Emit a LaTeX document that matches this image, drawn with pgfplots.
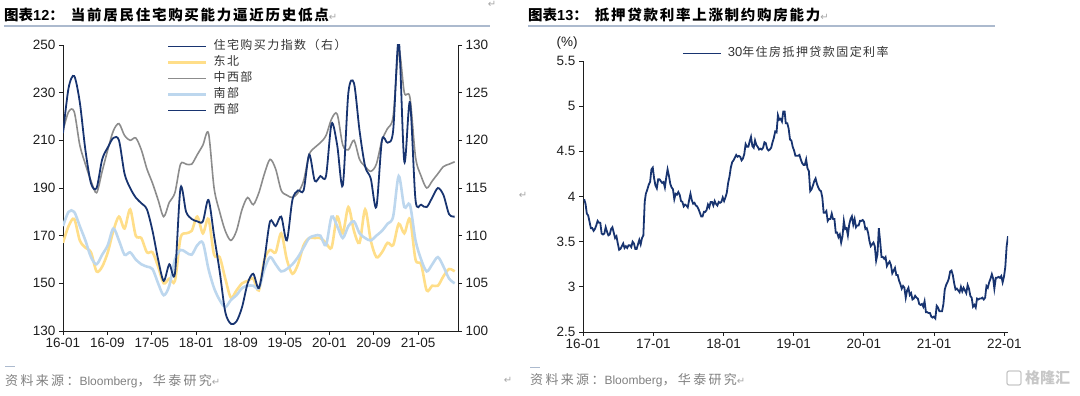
\documentclass[border=0pt]{standalone}
\usepackage{fontspec}
\setmainfont{Liberation Sans}
\newfontfamily\cjk{Noto Sans CJK SC}
\newfontfamily\cjkls[LetterSpace=12]{Noto Sans CJK SC}
\newfontfamily\cjksrc[LetterSpace=18]{Noto Sans CJK SC}
\newfontfamily\dv{DejaVu Sans}
\usepackage{pgfplots}
\usepackage{pgfplotstable}
\pgfplotsset{compat=1.18}
\usepgfplotslibrary{dateplot}
\definecolor{navy}{RGB}{24,52,112}
\definecolor{yellowc}{RGB}{255,222,137}
\definecolor{grayc}{RGB}{140,140,140}
\definecolor{lblue}{RGB}{189,215,238}
\definecolor{uline}{RGB}{172,186,206}
\definecolor{srcgray}{RGB}{128,128,128}
\definecolor{axc}{RGB}{30,30,30}

\pgfplotstableread{
m idx ne cw so
0 120.75 167 214 174
1 125.5 174 222 180
2 126.75 177 222 180
3 124 168 208 174
4 119 165 200 168
5 115.5 163 193 161
6 115 155 188 158
7 118 157 197 162
8 119.25 163 206 166
9 120.25 172 214 173
10 120 178 217 168
11 116.5 173 212 162
12 115 181 210 163
13 114 170 211 160
14 113.4 169 206 158
15 112.75 163 198 157
16 110.5 163 192 156
17 107.5 157 185 150
18 105.25 150 178 145
19 107 152 184 149
20 106 151 188 160
21 115 169 200 164
22 112.5 171 200 163
23 111.75 172 200 162
24 111.5 178 204 166
25 111.5 171 208 167
26 113.75 177 213 156
27 110 162 190 148
28 106.25 161 180 143
29 102 152 172 140
30 100.75 144 168 143
31 101 147 172 145
32 102.5 150 181 148
33 105 151 186 149
34 106 152 183 149
35 104.5 147 188 148
36 107.5 160 196 156
37 111.5 164 202 161
38 111 163 198 158
39 112 171 189 155
40 109.5 160 187 156
41 113.75 154 186 158
42 114.75 158 188 161
43 114.75 166 193 165
44 118.5 169 204 169
45 115.75 169 207 170
46 116.25 169 209 170
47 116.25 167 212 166
48 121.75 165 219 178
49 119.5 178 221 174
50 115.25 171 208 169
51 125 182 206 174
52 126 172 210 176
53 121 167 202 171
54 117.25 181 199 169
55 116 168 197 168
56 113 161 200 170
57 120 163 210 172
58 119.75 167 215 175
59 121 166 220 178
60 130.5 175 248 195
61 117.75 171 230 182
62 124 177 228 183
63 113.75 160 203 168
64 113.25 158 195 160
65 113 147 190 155
66 114 149 193 158
67 115 149 196 161
68 114.25 153 199 157
69 112.25 156 200 152
70 112 155 201 150
}\lefttab

\pgfplotstableread{
date rate
2016-01-07 3.97
2016-01-14 3.92
2016-01-21 3.81
2016-01-28 3.79
2016-02-04 3.72
2016-02-11 3.65
2016-02-18 3.65
2016-02-25 3.62
2016-03-03 3.64
2016-03-10 3.68
2016-03-17 3.73
2016-03-24 3.71
2016-03-31 3.71
2016-04-07 3.59
2016-04-14 3.58
2016-04-21 3.59
2016-04-28 3.66
2016-05-05 3.61
2016-05-12 3.57
2016-05-19 3.58
2016-05-26 3.64
2016-06-02 3.66
2016-06-09 3.60
2016-06-16 3.54
2016-06-23 3.56
2016-06-30 3.48
2016-07-07 3.41
2016-07-14 3.42
2016-07-21 3.45
2016-07-28 3.48
2016-08-04 3.43
2016-08-11 3.45
2016-08-18 3.43
2016-08-25 3.46
2016-09-01 3.46
2016-09-08 3.44
2016-09-15 3.50
2016-09-22 3.48
2016-09-29 3.42
2016-10-06 3.42
2016-10-13 3.47
2016-10-20 3.52
2016-10-27 3.47
2016-11-03 3.54
2016-11-10 3.57
2016-11-17 3.94
2016-11-23 4.03
2016-12-01 4.08
2016-12-08 4.13
2016-12-15 4.16
2016-12-22 4.30
2016-12-29 4.32
2017-01-05 4.20
2017-01-12 4.12
2017-01-19 4.09
2017-01-26 4.19
2017-02-02 4.19
2017-02-09 4.17
2017-02-16 4.15
2017-02-23 4.16
2017-03-02 4.10
2017-03-09 4.21
2017-03-16 4.30
2017-03-23 4.23
2017-03-30 4.14
2017-04-06 4.10
2017-04-13 4.08
2017-04-20 3.97
2017-04-27 4.03
2017-05-04 4.02
2017-05-11 4.05
2017-05-18 4.02
2017-05-25 3.95
2017-06-01 3.94
2017-06-08 3.89
2017-06-15 3.91
2017-06-22 3.90
2017-06-29 3.88
2017-07-06 3.96
2017-07-13 4.03
2017-07-20 3.96
2017-07-27 3.92
2017-08-03 3.93
2017-08-10 3.90
2017-08-17 3.89
2017-08-24 3.86
2017-08-31 3.82
2017-09-07 3.78
2017-09-14 3.78
2017-09-21 3.83
2017-09-28 3.83
2017-10-05 3.85
2017-10-12 3.91
2017-10-19 3.88
2017-10-26 3.94
2017-11-02 3.94
2017-11-09 3.90
2017-11-16 3.95
2017-11-22 3.92
2017-11-30 3.90
2017-12-07 3.94
2017-12-14 3.93
2017-12-21 3.94
2017-12-28 3.99
2018-01-04 3.95
2018-01-11 3.99
2018-01-18 4.04
2018-01-25 4.15
2018-02-01 4.22
2018-02-08 4.32
2018-02-15 4.38
2018-02-22 4.40
2018-03-01 4.43
2018-03-08 4.46
2018-03-15 4.44
2018-03-22 4.45
2018-03-29 4.44
2018-04-05 4.40
2018-04-12 4.42
2018-04-19 4.47
2018-04-26 4.58
2018-05-03 4.55
2018-05-10 4.55
2018-05-17 4.61
2018-05-24 4.66
2018-05-31 4.56
2018-06-07 4.54
2018-06-14 4.62
2018-06-21 4.57
2018-06-28 4.55
2018-07-05 4.52
2018-07-12 4.53
2018-07-19 4.52
2018-07-26 4.54
2018-08-02 4.60
2018-08-09 4.59
2018-08-16 4.53
2018-08-23 4.51
2018-08-30 4.52
2018-09-06 4.54
2018-09-13 4.60
2018-09-20 4.65
2018-09-27 4.72
2018-10-04 4.71
2018-10-11 4.90
2018-10-18 4.85
2018-10-25 4.86
2018-11-01 4.83
2018-11-08 4.94
2018-11-15 4.94
2018-11-21 4.81
2018-11-29 4.81
2018-12-06 4.75
2018-12-13 4.63
2018-12-20 4.62
2018-12-27 4.55
2019-01-03 4.51
2019-01-10 4.45
2019-01-17 4.45
2019-01-24 4.45
2019-01-31 4.46
2019-02-07 4.41
2019-02-14 4.37
2019-02-21 4.35
2019-02-28 4.35
2019-03-07 4.41
2019-03-14 4.31
2019-03-21 4.28
2019-03-28 4.06
2019-04-04 4.08
2019-04-11 4.12
2019-04-18 4.17
2019-04-25 4.20
2019-05-02 4.14
2019-05-09 4.10
2019-05-16 4.07
2019-05-23 4.06
2019-05-30 3.99
2019-06-06 3.82
2019-06-13 3.82
2019-06-20 3.84
2019-06-27 3.73
2019-07-03 3.75
2019-07-11 3.75
2019-07-18 3.81
2019-07-25 3.75
2019-08-01 3.75
2019-08-08 3.60
2019-08-15 3.60
2019-08-22 3.55
2019-08-29 3.58
2019-09-05 3.49
2019-09-12 3.56
2019-09-19 3.73
2019-09-26 3.64
2019-10-03 3.65
2019-10-10 3.57
2019-10-17 3.69
2019-10-24 3.75
2019-10-31 3.78
2019-11-07 3.69
2019-11-14 3.75
2019-11-21 3.66
2019-11-27 3.68
2019-12-05 3.68
2019-12-12 3.73
2019-12-19 3.73
2019-12-26 3.74
2020-01-02 3.72
2020-01-09 3.64
2020-01-16 3.65
2020-01-23 3.60
2020-01-30 3.51
2020-02-06 3.45
2020-02-13 3.47
2020-02-20 3.49
2020-02-27 3.45
2020-03-05 3.29
2020-03-12 3.36
2020-03-19 3.65
2020-03-26 3.50
2020-04-02 3.33
2020-04-09 3.33
2020-04-16 3.31
2020-04-23 3.33
2020-04-30 3.23
2020-05-07 3.26
2020-05-14 3.28
2020-05-21 3.24
2020-05-28 3.15
2020-06-04 3.18
2020-06-11 3.21
2020-06-18 3.13
2020-06-25 3.13
2020-07-02 3.07
2020-07-09 3.03
2020-07-16 2.98
2020-07-23 3.01
2020-07-30 2.99
2020-08-06 2.88
2020-08-13 2.96
2020-08-20 2.99
2020-08-27 2.91
2020-09-03 2.93
2020-09-10 2.86
2020-09-17 2.87
2020-09-24 2.90
2020-10-01 2.88
2020-10-08 2.87
2020-10-15 2.81
2020-10-22 2.80
2020-10-29 2.81
2020-11-05 2.78
2020-11-12 2.84
2020-11-19 2.72
2020-11-25 2.72
2020-12-03 2.71
2020-12-10 2.71
2020-12-17 2.67
2020-12-23 2.66
2020-12-30 2.67
2021-01-07 2.65
2021-01-14 2.79
2021-01-21 2.77
2021-01-28 2.73
2021-02-04 2.73
2021-02-11 2.73
2021-02-18 2.81
2021-02-25 2.97
2021-03-04 3.02
2021-03-11 3.05
2021-03-18 3.09
2021-03-25 3.17
2021-04-01 3.18
2021-04-08 3.13
2021-04-15 3.04
2021-04-22 2.97
2021-04-29 2.98
2021-05-06 2.96
2021-05-13 2.94
2021-05-20 3.00
2021-05-27 2.95
2021-06-03 2.99
2021-06-10 2.96
2021-06-17 2.93
2021-06-24 3.02
2021-07-01 2.98
2021-07-08 2.90
2021-07-15 2.88
2021-07-22 2.78
2021-07-29 2.80
2021-08-05 2.77
2021-08-12 2.87
2021-08-19 2.86
2021-08-26 2.87
2021-09-02 2.87
2021-09-09 2.88
2021-09-16 2.86
2021-09-23 2.88
2021-09-30 3.01
2021-10-07 2.99
2021-10-14 3.05
2021-10-21 3.09
2021-10-28 3.14
2021-11-04 3.09
2021-11-10 2.98
2021-11-18 3.10
2021-11-24 3.10
2021-12-02 3.11
2021-12-09 3.10
2021-12-16 3.12
2021-12-23 3.05
2021-12-30 3.11
2022-01-06 3.22
2022-01-13 3.45
2022-01-20 3.56
}\ratetab

\pgfplotsset{
  mybase/.style={
    scale only axis,
    anchor=south west,
    tick align=outside,
    major tick length=4pt,
    tick style={axc, line width=0.8pt},
    axis line style={axc, line width=0.8pt, -},
    ticklabel style={font=\fontsize{13.5}{15}\selectfont, text=axc},
    /pgf/number format/assume math mode=true,
    clip=true,
  },
  mylegend/.style={
    legend cell align=left,
    legend style={draw=none, fill=none, inner sep=0pt, outer sep=0pt,
      font=\fontsize{12}{13}\selectfont\cjkls\color{black!80},
      nodes={inner sep=0pt, text height=9pt, text depth=3pt},
      row sep=4pt, column sep=6pt},
    legend image code/.code={\draw[##1] (0pt,0pt) -- (38pt,0pt);},
  },
}

\begin{document}
\begin{tikzpicture}[x=1pt,y=1pt]
\path[use as bounding box] (0,0) rectangle (1080,396);

% ---------- titles ----------
\node[anchor=west, inner sep=0pt] at (4,381)
  {\fontsize{14.5}{16}\selectfont{\cjk\bfseries 图表}{\bfseries 12}{\cjk\bfseries ：}\hspace{7pt}{\cjkls\bfseries 当前居民住宅购买能力逼近历史低点}{\dv\color{black!35}\fontsize{10}{12}\selectfont ↵}};
\draw[uline, line width=1.6pt] (4,370) -- (490,370);
\node[anchor=west, inner sep=0pt] at (528,381)
  {\fontsize{14.5}{16}\selectfont{\cjk\bfseries 图表}{\bfseries 13}{\cjk\bfseries ：}\hspace{7pt}{\cjkls\bfseries 抵押贷款利率上涨制约购房能力}{\dv\color{black!35}\fontsize{10}{12}\selectfont ↵}};
\draw[uline, line width=1.6pt] (528,370) -- (995,370);
\node[anchor=center, inner sep=0pt] at (492,392) {\dv\color{black!35}\fontsize{10}{12}\selectfont ↵};
\node[anchor=center, inner sep=0pt] at (523,201) {\dv\color{black!35}\fontsize{10}{12}\selectfont ↵};
\node[anchor=center, inner sep=0pt] at (508,16) {\dv\color{black!35}\fontsize{10}{12}\selectfont ↵};

% ---------- sources ----------
\draw[uline, line width=1pt] (5,29) -- (15,29);
\node[anchor=west, inner sep=0pt, text=srcgray] at (5,15)
  {\fontsize{13}{14}\selectfont{\cjksrc 资料来源：}{\fontsize{12}{14}\selectfont Bloomberg}{\cjksrc ，华泰研究}{\dv\color{black!35}\fontsize{10}{12}\selectfont ↵}};
\draw[uline, line width=1pt] (530,28) -- (540,28);
\node[anchor=west, inner sep=0pt, text=srcgray] at (530,16)
  {\fontsize{13}{14}\selectfont{\cjksrc 资料来源：}{\fontsize{12}{14}\selectfont Bloomberg}{\cjksrc ，华泰研究}{\dv\color{black!35}\fontsize{10}{12}\selectfont ↵}};

% watermark
\draw[black!22, line width=1.2pt, rounded corners=2pt] (1007,11) rectangle (1021,25);
\node[anchor=west, inner sep=0pt, text=black!22] at (1025,18) {\fontsize{15}{17}\selectfont\cjk\bfseries 格隆汇};

% ---------- left chart: primary axis ----------
\begin{axis}[mybase,
  at={(63pt,65pt)}, width=395pt, height=286pt,
  xmin=0, xmax=71.2, ymin=130, ymax=250,
  axis x line*=bottom, axis y line*=left,
  xtick={0,8,16,24,32,40,48,56,64},
  xticklabels={16-01,16-09,17-05,18-01,18-09,19-05,20-01,20-09,21-05},
  ytick={130,150,170,190,210,230,250},
]
\addplot[yellowc, line width=2.6pt, smooth, tension=0.5] table[x expr=\thisrow{m}*1.0086, y=ne] {\lefttab};
\addplot[grayc, line width=1.6pt, smooth, tension=0.5] table[x expr=\thisrow{m}*1.0086, y=cw] {\lefttab};
\addplot[lblue, line width=2.6pt, smooth, tension=0.5] table[x expr=\thisrow{m}*1.0086, y=so] {\lefttab};
\end{axis}

% ---------- left chart: secondary axis ----------
\begin{axis}[mybase, mylegend,
  at={(63pt,65pt)}, width=395pt, height=286pt,
  xmin=0, xmax=71.2, ymin=100, ymax=130,
  axis x line=none, axis y line*=right,
  ytick={100,105,110,115,120,125,130},
  legend style={at={(0.2633,1.016)}, anchor=north west},
]
\addplot[navy, line width=1.8pt, smooth, tension=0.5] table[x expr=\thisrow{m}*1.0086, y=idx] {\lefttab};
\addlegendentry{住宅购买力指数（右）}
\addlegendimage{yellowc, line width=2.6pt}
\addlegendentry{东北}
\addlegendimage{grayc, line width=1.6pt}
\addlegendentry{中西部}
\addlegendimage{lblue, line width=2.6pt}
\addlegendentry{南部}
\addlegendimage{navy, line width=1.6pt}
\addlegendentry{西部}
\end{axis}

% ---------- right chart ----------
\begin{axis}[mybase, mylegend,
  at={(583pt,64pt)}, width=425pt, height=271pt,
  date coordinates in=x, date ZERO=2016-01-01,
  xmin=2016-01-01, xmax=2022-01-20,
  xtick={2016-01-01,2017-01-01,2018-01-01,2019-01-01,2020-01-01,2021-01-01,2022-01-01},
  xticklabels={16-01,17-01,18-01,19-01,20-01,21-01,22-01},
  ymin=2.5, ymax=5.5, ytick={2.5,3,3.5,4,4.5,5,5.5},
  axis x line*=bottom, axis y line*=left,
  legend style={at={(0.233,1.050)}, anchor=north west},
]
\addplot[navy, line width=1.8pt] table[x=date, y=rate] {\ratetab};
\addlegendentry{{\fontsize{13}{13}\selectfont\rmfamily 30}年住房抵押贷款固定利率}
\end{axis}
\node[anchor=center, inner sep=0pt] at (567,353) {\fontsize{13.5}{15}\selectfont\color{axc}(\%)};

\end{tikzpicture}
\end{document}
